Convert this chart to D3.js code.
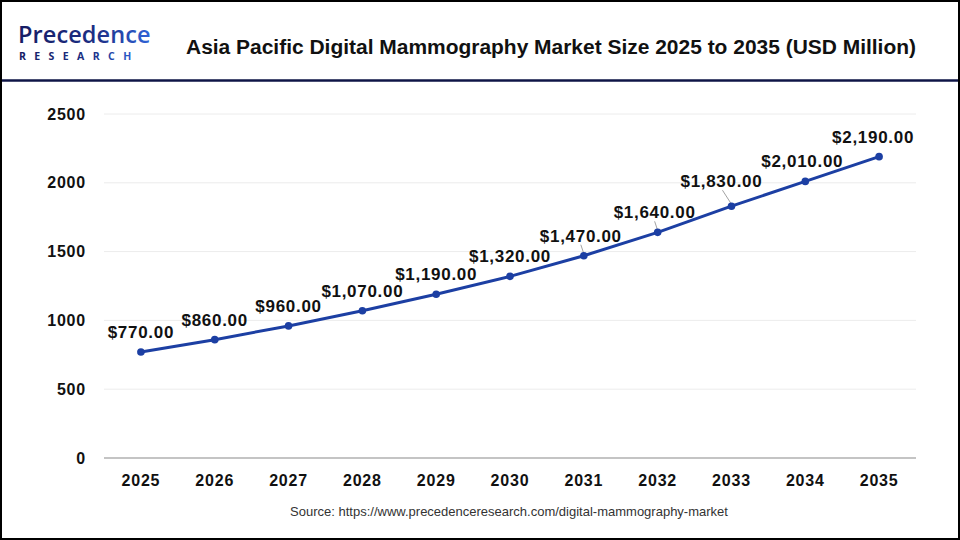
<!DOCTYPE html>
<html>
<head>
<meta charset="utf-8">
<script src="https://cdn.jsdelivr.net/npm/d3@7"></script>
<style>
  body { margin: 0; background: #fff; }
  svg { display: block; font-family: "Liberation Sans", Arial, sans-serif; }
</style>
</head>
<body>
<div id="chart"></div>
<script>
// chart data
var years = ['2025', '2026', '2027', '2028', '2029', '2030', '2031', '2032', '2033', '2034', '2035']
var values = [770, 860, 960, 1070, 1190, 1320, 1470, 1640, 1830, 2010, 2190]
var yTicks = [0, 500, 1000, 1500, 2000, 2500]

var width = 960,
    height = 540,
    margin = {top: 114, right: 44, bottom: 82, left: 104}

var svg = d3.select('#chart')
  .append('svg')
    .attr('width', width)
    .attr('height', height)

// outer frame
svg.append('rect')
  .attr('x', 1).attr('y', 1)
  .attr('width', width - 2).attr('height', height - 2)
  .attr('fill', '#fff')
  .attr('stroke', '#000')
  .attr('stroke-width', 2)

// header rule
svg.append('line')
  .attr('x1', 2).attr('x2', width - 2)
  .attr('y1', 80.5).attr('y2', 80.5)
  .attr('stroke', '#0e1446')
  .attr('stroke-width', 2.5)

// logo
var grad = svg.append('defs').append('linearGradient')
  .attr('id', 'logoGrad')
  .attr('x1', '0%').attr('x2', '100%')
grad.append('stop').attr('offset', '0%').attr('stop-color', '#161c63')
grad.append('stop').attr('offset', '60%').attr('stop-color', '#1d2f86')
grad.append('stop').attr('offset', '100%').attr('stop-color', '#2f63d8')

svg.append('text')
  .attr('x', 18).attr('y', 43)
  .attr('font-family', '"Open Sans", sans-serif')
  .attr('font-size', 23.5)
  .attr('font-weight', 600)
  .attr('letter-spacing', 0.1)
  .attr('fill', 'url(#logoGrad)')
  .text('Precedence')

svg.append('text')
  .attr('x', 19).attr('y', 60)
  .attr('font-family', '"Open Sans", sans-serif')
  .attr('font-size', 10.5)
  .attr('font-weight', 700)
  .attr('letter-spacing', 8.4)
  .attr('fill', 'url(#logoGrad)')
  .text('RESEARCH')

// title
svg.append('text')
  .attr('x', 551).attr('y', 54)
  .attr('text-anchor', 'middle')
  .attr('font-size', 20)
  .attr('font-weight', 'bold')
  .attr('fill', '#111')
  .attr('textLength', 730)
  .attr('lengthAdjust', 'spacingAndGlyphs')
  .text('Asia Pacific Digital Mammography Market Size 2025 to 2035 (USD Million)')

// scales
var x = d3.scaleBand()
  .domain(years)
  .range([margin.left, width - margin.right])

var y = d3.scaleLinear()
  .domain([0, 2500])
  .range([height - margin.bottom, margin.top])

// gridlines
svg.append('g')
  .selectAll('line')
  .data(yTicks.filter(function(d) { return d > 0 }))
  .enter()
  .append('line')
    .attr('x1', margin.left).attr('x2', width - margin.right)
    .attr('y1', function(d) { return y(d) }).attr('y2', function(d) { return y(d) })
    .attr('stroke', '#ececec')
    .attr('stroke-width', 1)

// baseline
svg.append('line')
  .attr('x1', margin.left).attr('x2', width - margin.right)
  .attr('y1', y(0)).attr('y2', y(0))
  .attr('stroke', '#c4c4c4')
  .attr('stroke-width', 2)

// y axis
var yAxis = svg.append('g')
  .attr('transform', 'translate(' + (margin.left - 18) + ',0)')
  .call(d3.axisLeft(y).tickValues(yTicks).tickFormat(d3.format('d')).tickSize(0).tickPadding(0))
yAxis.select('.domain').remove()
yAxis.selectAll('text')
  .attr('font-size', 16)
  .attr('font-weight', 'bold')
  .attr('letter-spacing', 0.8)
  .attr('fill', '#111')
  .attr('font-family', '"Liberation Sans", Arial, sans-serif')

// x axis
var xAxis = svg.append('g')
  .attr('transform', 'translate(0,' + y(0) + ')')
  .call(d3.axisBottom(x).tickSize(0).tickPadding(17))
xAxis.select('.domain').remove()
xAxis.selectAll('text')
  .attr('font-size', 16)
  .attr('font-weight', 'bold')
  .attr('letter-spacing', 0.8)
  .attr('fill', '#111')
  .attr('font-family', '"Liberation Sans", Arial, sans-serif')

var cx = function(i) { return x(years[i]) + x.bandwidth() / 2 }

// line
var line = d3.line()
  .x(function(d, i) { return cx(i) })
  .y(function(d) { return y(d) })

svg.append('path')
  .datum(values)
  .attr('d', line)
  .attr('fill', 'none')
  .attr('stroke', '#1c3fa3')
  .attr('stroke-width', 3)

// leader lines for the crowded labels
var leaders = [6, 7, 8]
svg.append('g')
  .selectAll('line')
  .data(leaders)
  .enter()
  .append('line')
    .attr('x1', function(i) { return cx(i) })
    .attr('y1', function(i) { return y(values[i]) - 2 })
    .attr('x2', function(i) { return cx(i) - (i == 8 ? 9 : 3) })
    .attr('y2', function(i) { return y(values[i]) - (i == 8 ? 16 : 11) })
    .attr('stroke', '#8a8a8a')
    .attr('stroke-width', 0.8)

// points
svg.append('g')
  .selectAll('circle')
  .data(values)
  .enter()
  .append('circle')
    .attr('cx', function(d, i) { return cx(i) })
    .attr('cy', function(d) { return y(d) })
    .attr('r', 3.8)
    .attr('fill', '#1c3fa3')

// value labels
var fmt = d3.format(',.2f')
svg.append('g')
  .selectAll('text')
  .data(values)
  .enter()
  .append('text')
    .attr('x', function(d, i) { return cx(i) - (i >= 6 ? (i == 8 ? 10 : 3) : 0) - (i == 10 ? 3 : 0) })
    .attr('y', function(d, i) { return y(d) - (i == 8 ? 19 : 14) })
    .attr('text-anchor', 'middle')
    .attr('font-size', 17)
    .attr('font-weight', 'bold')
    .attr('letter-spacing', 0.7)
    .attr('fill', '#111')
    .text(function(d) { return '$' + fmt(d) })

// source
svg.append('text')
  .attr('x', 509).attr('y', 516)
  .attr('text-anchor', 'middle')
  .attr('font-family', '"Liberation Sans", Arial, sans-serif')
  .attr('font-size', 13)
  .attr('fill', '#333')
  .text('Source: https://www.precedenceresearch.com/digital-mammography-market')
</script>
</body>
</html>
